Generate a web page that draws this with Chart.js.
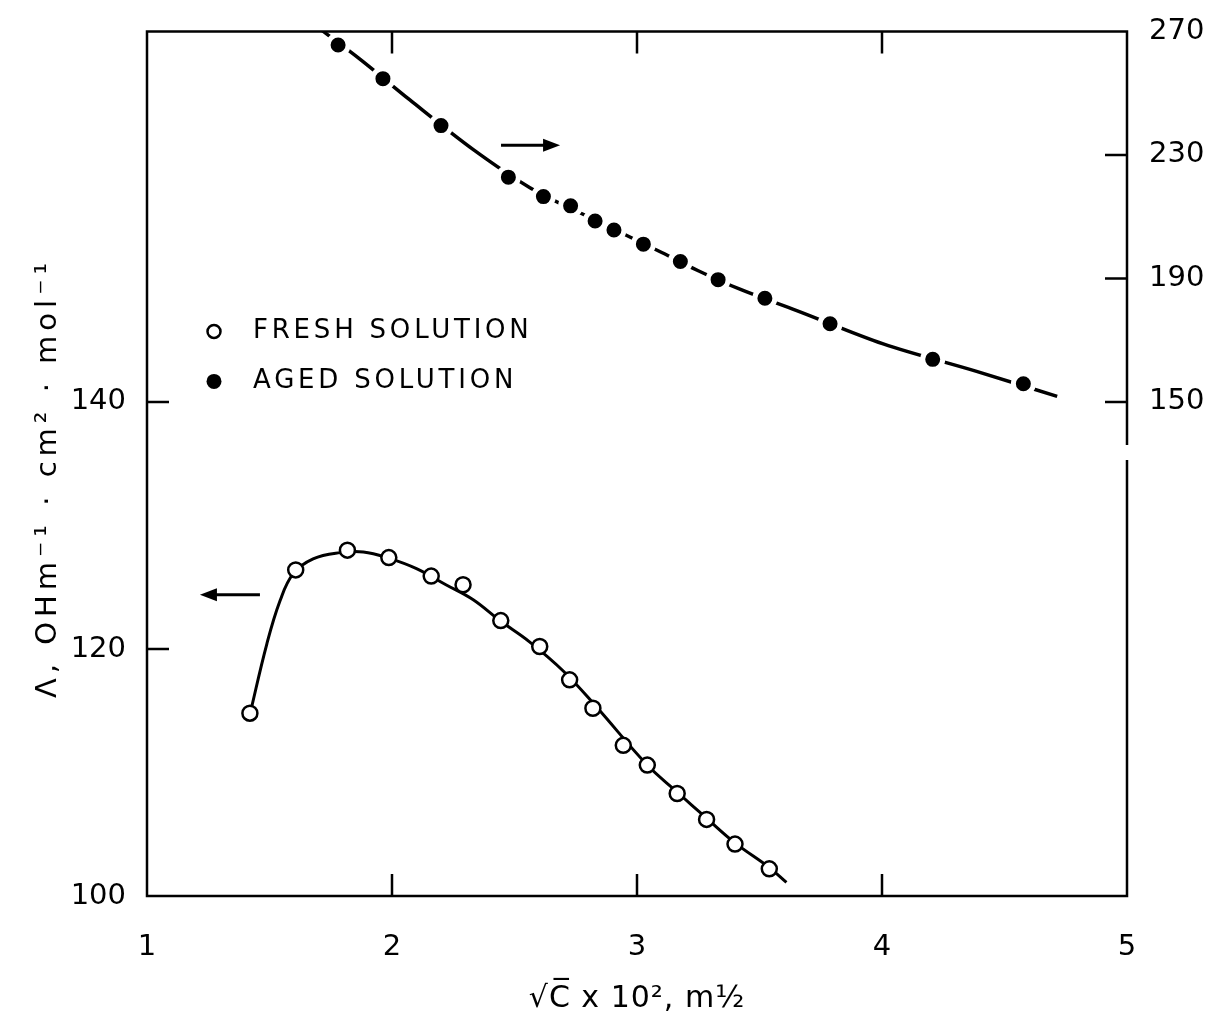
<!DOCTYPE html>
<html>
<head>
<meta charset="utf-8">
<script src="https://cdn.jsdelivr.net/npm/chart.js@4.4.1/dist/chart.umd.min.js"></script>
<style>
  html, body { margin: 0; padding: 0; background: #fff; }
  #wrap { width: 1211px; height: 1028px; }
</style>
</head>
<body>
<div id="wrap"><canvas id="chart"></canvas></div>
<script>
// ----- data -----
// fresh solution (left axis), open circles
const freshX = [1.42, 1.607, 1.818, 1.987, 2.16, 2.29, 2.444, 2.603, 2.725, 2.82, 2.944, 3.042, 3.164, 3.284, 3.40, 3.54];
const freshY = [114.8, 126.4, 128.0, 127.4, 125.9, 125.2, 122.3, 120.2, 117.5, 115.2, 112.2, 110.6, 108.3, 106.2, 104.2, 102.2];
// smooth curve drawn through the fresh points
const freshFitX = [1.42, 1.489, 1.543, 1.597, 1.678, 1.788, 1.883, 1.986, 2.10, 2.22, 2.33, 2.44, 2.56, 2.70, 2.835, 3.042, 3.165, 3.284, 3.40, 3.54, 3.61];
const freshFitY = [114.7, 120.4, 123.9, 126.1, 127.3, 127.8, 127.85, 127.35, 126.5, 125.2, 124.0, 122.3, 120.6, 118.2, 115.3, 110.6, 108.4, 106.3, 104.3, 102.3, 101.1];

// aged solution (right axis), filled circles
const agedX = [1.78, 1.963, 2.2, 2.475, 2.618, 2.729, 2.829, 2.906, 3.026, 3.177, 3.331, 3.522, 3.788, 4.207, 4.577];
const agedY = [265.6, 254.7, 239.5, 222.8, 216.5, 213.5, 208.6, 205.7, 201.1, 195.5, 189.6, 183.6, 175.3, 163.8, 155.9];
// dashed curve for the aged points
const agedFitX = [1.714, 1.869, 2.073, 2.332, 2.563, 2.80, 3.101, 3.25, 3.42, 3.652, 4.005, 4.386, 4.715];
const agedFitY = [270.3, 261.0, 247.8, 231.7, 219.4, 210.0, 198.4, 192.5, 186.5, 179.6, 168.8, 159.9, 151.8];

// tick labels
const xTicks = [1, 2, 3, 4, 5];
const leftTicks = [100, 120, 140];
const rightTicks = [150, 190, 230, 270];

const legendLabels = ['FRESH SOLUTION', 'AGED SOLUTION'];
const xTitle = '\u221AC\u0305 x 10\u00B2, m\u00BD';
const yTitle = '\u039B, OHm\u207B\u00B9 \u00B7 cm\u00B2 \u00B7 mol\u207B\u00B9';

const FONT = '"DejaVu Sans", "Liberation Sans", sans-serif';

const toXY = (xs, ys) => xs.map((x, i) => ({ x: x, y: ys[i] }));
const fixTicks = list => scale => { scale.ticks = list.map(v => ({ value: v })); };

// ----- frame, inward ticks, legend, arrows, axis titles -----
const decor = {
  id: 'decor',
  afterDraw(chart) {
    const ctx = chart.ctx;
    const a = chart.chartArea;
    const sx = chart.scales.x, sy = chart.scales.y, sy2 = chart.scales.y2;
    const tl = 22;
    ctx.save();
    ctx.strokeStyle = '#000';
    ctx.lineWidth = 2.5;
    ctx.lineCap = 'butt';

    // frame (small break in the right edge like the original)
    ctx.beginPath();
    ctx.moveTo(a.right, 445);
    ctx.lineTo(a.right, a.top);
    ctx.lineTo(a.left, a.top);
    ctx.lineTo(a.left, a.bottom);
    ctx.lineTo(a.right, a.bottom);
    ctx.lineTo(a.right, 460);
    ctx.stroke();

    // tick marks pointing inward
    ctx.beginPath();
    [2, 3, 4].forEach(v => {
      const px = sx.getPixelForValue(v);
      ctx.moveTo(px, a.bottom); ctx.lineTo(px, a.bottom - tl);
      ctx.moveTo(px, a.top); ctx.lineTo(px, a.top + tl);
    });
    [120, 140].forEach(v => {
      const py = sy.getPixelForValue(v);
      ctx.moveTo(a.left, py); ctx.lineTo(a.left + tl, py);
    });
    [150, 190, 230].forEach(v => {
      const py = sy2.getPixelForValue(v);
      ctx.moveTo(a.right, py); ctx.lineTo(a.right - tl, py);
    });
    ctx.stroke();

    // arrows telling which axis each curve belongs to
    const arrow = (x1, x2, y) => {
      const d = Math.sign(x2 - x1);
      ctx.lineWidth = 3;
      ctx.beginPath();
      ctx.moveTo(x1, y);
      ctx.lineTo(x2 - d * 10, y);
      ctx.stroke();
      ctx.beginPath();
      ctx.moveTo(x2, y);
      ctx.lineTo(x2 - d * 17, y - 6.5);
      ctx.lineTo(x2 - d * 17, y + 6.5);
      ctx.closePath();
      ctx.fillStyle = '#000';
      ctx.fill();
    };
    arrow(sx.getPixelForValue(1.461), sx.getPixelForValue(1.216), sy.getPixelForValue(124.4));
    arrow(sx.getPixelForValue(2.445), sx.getPixelForValue(2.686), sy2.getPixelForValue(233.1));

    // legend inside the plot
    const lx = a.left + 67;
    const rows = [a.top + 300, a.top + 350];
    ctx.lineWidth = 2.5;
    ctx.beginPath();
    ctx.arc(lx, rows[0], 6.5, 0, Math.PI * 2);
    ctx.fillStyle = '#fff';
    ctx.fill();
    ctx.stroke();
    ctx.beginPath();
    ctx.arc(lx, rows[1], 7.5, 0, Math.PI * 2);
    ctx.fillStyle = '#000';
    ctx.fill();
    ctx.font = '26px ' + FONT;
    ctx.letterSpacing = '3.8px';
    ctx.textAlign = 'left';
    ctx.textBaseline = 'middle';
    ctx.fillText(legendLabels[0], lx + 39, rows[0]);
    ctx.fillText(legendLabels[1], lx + 39, rows[1]);

    // axis titles
    ctx.font = '30px ' + FONT;
    ctx.letterSpacing = '1px';
    ctx.textAlign = 'center';
    ctx.fillText(xTitle, (a.left + a.right) / 2, 999);

    ctx.translate(48, 478);
    ctx.rotate(-Math.PI / 2);
    ctx.font = '29px ' + FONT;
    ctx.letterSpacing = '5px';
    ctx.fillText(yTitle, 0, 0);
    ctx.restore();
  }
};

const tickFont = { family: FONT, size: 29 };

new Chart(document.getElementById('chart'), {
  type: 'scatter',
  data: {
    datasets: [
      {
        label: legendLabels[0],
        data: toXY(freshX, freshY),
        yAxisID: 'y',
        showLine: false,
        pointRadius: 7.5,
        pointBackgroundColor: '#fff',
        pointBorderColor: '#000',
        pointBorderWidth: 2.5,
        order: 0
      },
      {
        label: 'fresh fit',
        data: toXY(freshFitX, freshFitY),
        yAxisID: 'y',
        showLine: true,
        borderColor: '#000',
        borderWidth: 3,
        pointRadius: 0,
        tension: 0.4,
        order: 2
      },
      {
        label: legendLabels[1],
        data: toXY(agedX, agedY),
        yAxisID: 'y2',
        showLine: false,
        pointRadius: 10,
        pointBackgroundColor: '#000',
        pointBorderColor: '#fff',
        pointBorderWidth: 5,
        order: 1
      },
      {
        label: 'aged fit',
        data: toXY(agedFitX, agedFitY),
        yAxisID: 'y2',
        showLine: true,
        borderColor: '#000',
        borderWidth: 3.5,
        pointRadius: 0,
        cubicInterpolationMode: 'monotone',
        order: 2
      }
    ]
  },
  options: {
    responsive: true,
    maintainAspectRatio: false,
    animation: false,
    layout: { padding: { top: 27, left: 0, right: 0, bottom: 0 } },
    plugins: { legend: { display: false }, tooltip: { enabled: false } },
    scales: {
      x: {
        type: 'linear',
        position: 'bottom',
        min: 1, max: 5,
        afterBuildTicks: fixTicks(xTicks),
        afterFit: s => { s.height = 132; },
        grid: { display: false },
        border: { display: false },
        ticks: { color: '#000', font: tickFont, padding: 26, callback: v => String(v) }
      },
      y: {
        type: 'linear',
        position: 'left',
        min: 100, max: 170,
        afterBuildTicks: fixTicks(leftTicks),
        afterFit: s => { s.width = 147; },
        grid: { display: false },
        border: { display: false },
        ticks: { color: '#000', font: tickFont, padding: 13, callback: v => String(v) }
      },
      y2: {
        type: 'linear',
        position: 'right',
        min: -10, max: 270,
        afterBuildTicks: fixTicks(rightTicks),
        afterFit: s => { s.width = 84; },
        grid: { display: false },
        border: { display: false },
        ticks: { color: '#000', font: tickFont, padding: 14, callback: v => String(v) }
      }
    }
  },
  plugins: [decor]
});
</script>
</body>
</html>
